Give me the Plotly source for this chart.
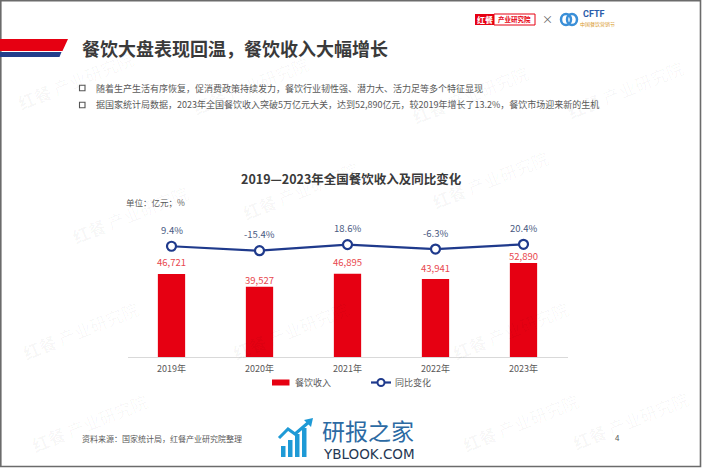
import plotly.graph_objects as go

# ---------------- data ----------------
years = ["2019年", "2020年", "2021年", "2022年", "2023年"]
revenue = [46721, 39527, 46895, 43941, 52890]          # 亿元
yoy = [9.4, -15.4, 18.6, -6.3, 20.4]                    # %

page_title = "餐饮大盘表现回温，餐饮收入大幅增长"
bullets = [
    "随着生产生活有序恢复，促消费政策持续发力，餐饮行业韧性强、潜力大、活力足等多个特征显现",
    "据国家统计局数据，2023年全国餐饮收入突破5万亿元大关，达到52,890亿元，较2019年增长了13.2%，餐饮市场迎来新的生机",
]
chart_title = "2019—2023年全国餐饮收入及同比变化"
unit_text = "单位：亿元；%"
source_text = "资料来源：国家统计局，红餐产业研究院整理"
series_names = ["餐饮收入", "同比变化"]

# label offsets above bars (px), as placed in the reference
bar_label_shift = [12, 7, 12, 10.5, 7]

W, H = 702, 468
FONT = "Noto Sans CJK SC"
RED = "#e60012"
BLUE = "#1f3a8c"


def px(x):
    return x / W


def py(y):
    return 1 - y / H


fig = go.Figure()

fig.add_trace(go.Bar(
    x=years, y=revenue, name=series_names[0],
    marker=dict(color=RED, line=dict(width=0)),
    yaxis="y",
))
fig.add_trace(go.Scatter(
    x=years, y=yoy, name=series_names[1], mode="lines+markers",
    line=dict(color=BLUE, width=2.2),
    marker=dict(symbol="circle", size=9, color="white", line=dict(color=BLUE, width=2.2)),
    yaxis="y2",
))

annotations = []
# data labels
for yr, v, s in zip(years, revenue, bar_label_shift):
    annotations.append(dict(x=yr, y=v, xref="x", yref="y", text=f"{v:,}",
                            showarrow=False, yanchor="middle", yshift=s,
                            font=dict(family=FONT, size=9.5, color="#e8474e")))
for yr, v in zip(years, yoy):
    annotations.append(dict(x=yr, y=v, xref="x", yref="y2", text=f"{v}%",
                            showarrow=False, yanchor="middle", yshift=16.5,
                            font=dict(family=FONT, size=9.5, color="#4a5a82")))

# page texts
annotations.append(dict(x=px(80), y=py(48), xref="paper", yref="paper", text=f"<b>{page_title}</b>",
                        showarrow=False, xanchor="left", yanchor="middle",
                        font=dict(family=FONT, size=18, color="#3a3a3a")))
for i, t in enumerate(bullets):
    annotations.append(dict(x=px(94), y=py(88 + 17 * i), xref="paper", yref="paper", text=t,
                            showarrow=False, xanchor="left", yanchor="middle",
                            font=dict(family=FONT, size=9, color="#595959")))
annotations.append(dict(x=px(351), y=py(178), xref="paper", yref="paper", text=f"<b>{chart_title}</b>",
                        showarrow=False, xanchor="center", yanchor="middle",
                        font=dict(family=FONT, size=12.5, color="#3a3a3a")))
annotations.append(dict(x=px(124), y=py(202), xref="paper", yref="paper", text=unit_text,
                        showarrow=False, xanchor="left", yanchor="middle",
                        font=dict(family=FONT, size=8.5, color="#595959")))
annotations.append(dict(x=px(80), y=py(438), xref="paper", yref="paper", text=source_text,
                        showarrow=False, xanchor="left", yanchor="middle",
                        font=dict(family=FONT, size=8, color="#595959")))
annotations.append(dict(x=px(617), y=py(437), xref="paper", yref="paper", text="4",
                        showarrow=False, xanchor="center", yanchor="middle",
                        font=dict(family=FONT, size=8, color="#595959")))
# legend texts
annotations.append(dict(x=px(293), y=py(382.5), xref="paper", yref="paper", text=series_names[0],
                        showarrow=False, xanchor="left", yanchor="middle",
                        font=dict(family=FONT, size=9, color="#595959")))
annotations.append(dict(x=px(393), y=py(382.5), xref="paper", yref="paper", text=series_names[1],
                        showarrow=False, xanchor="left", yanchor="middle",
                        font=dict(family=FONT, size=9, color="#595959")))
# top-right logos
annotations.append(dict(x=px(484.5), y=py(19.5), xref="paper", yref="paper", text="<b>红餐</b>",
                        showarrow=False, xanchor="center", yanchor="middle",
                        font=dict(family=FONT, size=8, color="white")))
annotations.append(dict(x=px(514.5), y=py(19.5), xref="paper", yref="paper", text="<b>产业研究院</b>",
                        showarrow=False, xanchor="center", yanchor="middle",
                        font=dict(family=FONT, size=6.5, color=RED)))
annotations.append(dict(x=px(547), y=py(19.5), xref="paper", yref="paper", text="×",
                        showarrow=False, xanchor="center", yanchor="middle",
                        font=dict(family=FONT, size=11, color="#666666")))
annotations.append(dict(x=px(581), y=py(14), xref="paper", yref="paper", text="<b>CFTF</b>",
                        showarrow=False, xanchor="left", yanchor="middle",
                        font=dict(family="Roboto", size=9, color="#2a5caa")))
annotations.append(dict(x=px(578), y=py(23.5), xref="paper", yref="paper", text="中国餐饮营销节",
                        showarrow=False, xanchor="left", yanchor="middle",
                        font=dict(family=FONT, size=5, color="#d99a2b")))
# yblook watermark logo
annotations.append(dict(x=px(320), y=py(429.5), xref="paper", yref="paper", text="研报之家",
                        showarrow=False, xanchor="left", yanchor="middle",
                        font=dict(family=FONT, size=23, color="#2c6aa3")))
annotations.append(dict(x=px(321), y=py(454), xref="paper", yref="paper", text="YBLOOK.COM",
                        showarrow=False, xanchor="left", yanchor="middle",
                        font=dict(family="DejaVu Sans", size=13.5, color="#243752")))
# faint watermarks
for (wx, wy) in [(75, 80), (250, 85), (470, 95), (625, 90), (300, 190), (490, 180),
                 (290, 330), (510, 330), (80, 330), (90, 422), (520, 422), (630, 420), (130, 215)]:
    annotations.append(dict(x=px(wx), y=py(wy), xref="paper", yref="paper",
                            text="<b>红餐</b> 产业研究院", textangle=-22,
                            showarrow=False, xanchor="center", yanchor="middle",
                            font=dict(family=FONT, size=17, color="rgba(0,0,0,0.035)")))

shapes = []
# page border
shapes.append(dict(type="rect", xref="paper", yref="paper", x0=px(0.8), y0=py(466.5), x1=px(700.5), y1=py(0.8),
                   line=dict(color="#6b6b6b", width=1.6), fillcolor="rgba(0,0,0,0)", layer="above"))


def path(points):
    return "M " + " L ".join(f"{px(a):.5f},{py(b):.5f}" for a, b in points) + " Z"


# header banner
shapes.append(dict(type="path", xref="paper", yref="paper",
                   path=path([(0, 39), (68, 39), (62.5, 51), (0, 51)]),
                   fillcolor=RED, line=dict(width=0)))
shapes.append(dict(type="path", xref="paper", yref="paper",
                   path=path([(0, 52), (61.5, 52), (59.5, 57), (0, 57)]),
                   fillcolor="#233e8b", line=dict(width=0)))
# bullet squares
for i in range(len(bullets)):
    yc = 88 + 17 * i
    shapes.append(dict(type="rect", xref="paper", yref="paper",
                       x0=px(79.5), x1=px(85), y0=py(yc + 2.8), y1=py(yc - 2.7),
                       line=dict(color="#555555", width=1.1), fillcolor="white"))
# legend symbols
shapes.append(dict(type="rect", xref="paper", yref="paper", x0=px(272), x1=px(289.5),
                   y0=py(385.5), y1=py(379.5), fillcolor=RED, line=dict(width=0)))
shapes.append(dict(type="line", xref="paper", yref="paper", x0=px(371), x1=px(391),
                   y0=py(382.5), y1=py(382.5), line=dict(color=BLUE, width=2.2)))
shapes.append(dict(type="circle", xref="paper", yref="paper", x0=px(377.5), x1=px(384.5),
                   y0=py(386), y1=py(379), fillcolor="white", line=dict(color=BLUE, width=2)))
# logo boxes
shapes.append(dict(type="rect", xref="paper", yref="paper", x0=px(475), x1=px(494), y0=py(25), y1=py(14),
                   fillcolor=RED, line=dict(width=0)))
shapes.append(dict(type="rect", xref="paper", yref="paper", x0=px(494), x1=px(535), y0=py(25), y1=py(14),
                   fillcolor="white", line=dict(color=RED, width=1)))
# CFTF swirl approximation
for cx in (566, 572):
    shapes.append(dict(type="circle", xref="paper", yref="paper",
                       x0=px(cx - 5), x1=px(cx + 5), y0=py(25), y1=py(14),
                       line=dict(color="#3a8fd8", width=2.5), fillcolor="rgba(0,0,0,0)"))
# yblook icon: bars + arrow
for bx, top in [(281, 446), (288, 440), (295, 434), (302, 428)]:
    shapes.append(dict(type="rect", xref="paper", yref="paper", x0=px(bx), x1=px(bx + 4.5),
                       y0=py(457), y1=py(top), fillcolor="#1e9ad6", line=dict(width=0)))
shapes.append(dict(type="path", xref="paper", yref="paper",
                   path="M " + " L ".join(f"{px(a):.5f},{py(b):.5f}" for a, b in
                                          [(279, 438), (288, 429), (295, 434), (309, 422)]),
                   line=dict(color="#1e9ad6", width=3), fillcolor="rgba(0,0,0,0)"))
shapes.append(dict(type="path", xref="paper", yref="paper",
                   path=path([(304, 420), (313, 418), (311, 427)]),
                   fillcolor="#1e9ad6", line=dict(width=0)))

fig.update_layout(
    width=W, height=H,
    margin=dict(l=0, r=0, t=0, b=0),
    paper_bgcolor="white", plot_bgcolor="white",
    font=dict(family=FONT, color="#595959"),
    bargap=0.69,
    showlegend=False,
    xaxis=dict(domain=[px(127.5), px(567.5)], showline=True, linecolor="#d9d9d9", linewidth=1,
               showgrid=False, ticks="", zeroline=False, ticklabelstandoff=3,
               tickfont=dict(family=FONT, size=9, color="#595959")),
    yaxis=dict(domain=[py(357), py(215)], range=[0, 142 / 0.001777], visible=False,
               showgrid=False, zeroline=False),
    yaxis2=dict(overlaying="y", range=[-609.3, 184.1], visible=False, showgrid=False, zeroline=False),
    annotations=annotations,
    shapes=shapes,
)

fig.write_html("out.html")
